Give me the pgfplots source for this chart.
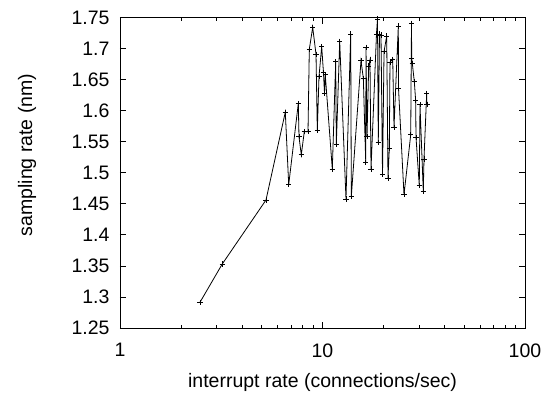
\documentclass[border=0pt]{standalone}
\usepackage{fontspec}
\setmainfont{Liberation Sans}
\usepackage{pgfplots}
\usepackage{pgfplotstable}
\pgfplotsset{compat=1.18}
\pgfplotstableread{
x y
2.484 1.2915
3.201 1.3532
5.260 1.4561
6.551 1.5976
6.810 1.4807
7.595 1.6114
7.656 1.5579
7.859 1.5289
8.131 1.5664
8.481 1.5659
8.607 1.6989
8.946 1.7342
9.289 1.6908
9.427 1.5680
9.609 1.6548
9.909 1.7031
10.11 1.6613
10.23 1.6281
10.32 1.6576
11.18 1.5059
11.62 1.6789
11.70 1.5450
12.16 1.7117
13.06 1.4577
13.78 1.7235
13.88 1.4619
15.49 1.6805
15.91 1.6523
16.35 1.5166
16.40 1.7021
16.59 1.5584
16.91 1.6720
17.16 1.6817
17.36 1.5059
18.48 1.7235
18.69 1.7476
18.86 1.5482
19.12 1.7235
19.45 1.7219
19.79 1.4968
20.13 1.6950
20.75 1.7203
21.06 1.4915
21.38 1.5397
21.54 1.6780
22.22 1.6828
22.55 1.5735
23.68 1.7363
23.73 1.6362
25.26 1.4646
27.27 1.5611
27.51 1.7407
27.57 1.6844
27.76 1.6764
28.40 1.6468
28.85 1.6162
28.95 1.5574
30.06 1.4791
30.30 1.6093
31.46 1.4699
31.71 1.5220
32.70 1.6281
32.78 1.6093
}\datatable
\begin{document}
\begin{tikzpicture}
\useasboundingbox (-120pt,-66pt) rectangle (440pt,328pt);
\begin{axis}[
  at={(0pt,0pt)}, anchor=south west,
  scale only axis, width=405pt, height=310.5pt,
  xmode=log, xmin=1, xmax=100, ymin=1.25, ymax=1.75,
  xtick={1,10,100}, xticklabels={1,10,100},
  minor xtick={2,3,4,5,6,7,8,9,20,30,40,50,60,70,80,90},
  ytick={1.25,1.3,1.35,1.4,1.45,1.5,1.55,1.6,1.65,1.7,1.75},
  yticklabels={1.25,1.3,1.35,1.4,1.45,1.5,1.55,1.6,1.65,1.7,1.75},
  tick align=inside, tick pos=both,
  major tick length=6pt, minor tick length=3pt,
  axis line style={line width=0.9pt},
  every tick/.style={black, line width=0.8pt},
  tick label style={font=\fontsize{19.5}{23}\selectfont},
  label style={font=\fontsize{19.5}{23}\selectfont},
  yticklabel style={xshift=-7pt},
  xticklabel style={yshift=-12pt},
  xlabel={interrupt rate (connections/sec)},
  ylabel={sampling rate (nm)},
  xlabel style={at={(axis description cs:0.5,-0.174)}, anchor=center},
  ylabel style={at={(axis description cs:-0.2296,0.557)}, anchor=center},
]
\addplot[black, line width=0.8pt, mark=+, mark size=2.6pt, mark options={line width=0.8pt}] table[x=x,y=y] {\datatable};
\end{axis}
\end{tikzpicture}
\end{document}
